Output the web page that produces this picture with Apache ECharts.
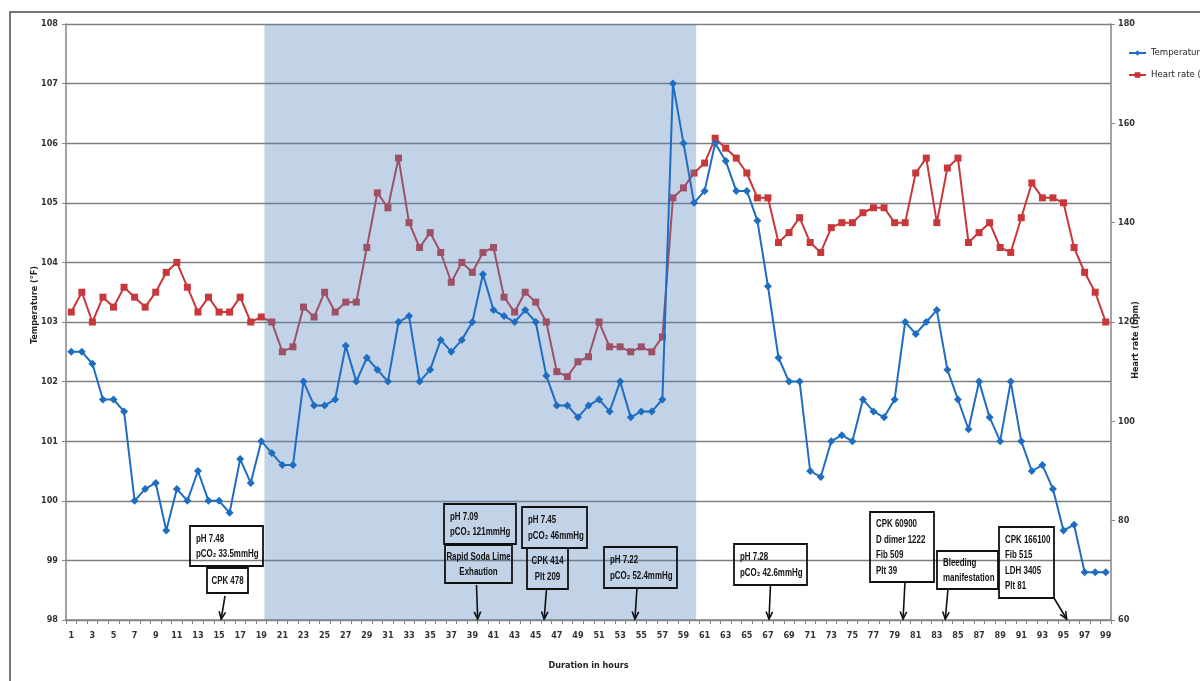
<!DOCTYPE html>
<html>
<head>
<meta charset="utf-8">
<script src="https://cdn.jsdelivr.net/npm/echarts@6/dist/echarts.min.js"></script>
<style>
  html, body { margin: 0; padding: 0; background: #ffffff; }
  #chart { width: 1200px; height: 681px; }
</style>
</head>
<body>
<div id="chart"></div>
<script>
// Hours of monitoring (x categories)
const hours = Array.from({ length: 99 }, (_, i) => String(i + 1));

// Body temperature, °F, hourly
const temperature = [
  102.5, 102.5, 102.3, 101.7, 101.7, 101.5, 100.0, 100.2, 100.3, 99.5,
  100.2, 100.0, 100.5, 100.0, 100.0, 99.8, 100.7, 100.3, 101.0, 100.8,
  100.6, 100.6, 102.0, 101.6, 101.6, 101.7, 102.6, 102.0, 102.4, 102.2,
  102.0, 103.0, 103.1, 102.0, 102.2, 102.7, 102.5, 102.7, 103.0, 103.8,
  103.2, 103.1, 103.0, 103.2, 103.0, 102.1, 101.6, 101.6, 101.4, 101.6,
  101.7, 101.5, 102.0, 101.4, 101.5, 101.5, 101.7, 107.0, 106.0, 105.0,
  105.2, 106.0, 105.7, 105.2, 105.2, 104.7, 103.6, 102.4, 102.0, 102.0,
  100.5, 100.4, 101.0, 101.1, 101.0, 101.7, 101.5, 101.4, 101.7, 103.0,
  102.8, 103.0, 103.2, 102.2, 101.7, 101.2, 102.0, 101.4, 101.0, 102.0,
  101.0, 100.5, 100.6, 100.2, 99.5, 99.6, 98.8, 98.8, 98.8
];

// Heart rate, bpm, hourly
const heartRate = [
  122, 126, 120, 125, 123, 127, 125, 123, 126, 130,
  132, 127, 122, 125, 122, 122, 125, 120, 121, 120,
  114, 115, 123, 121, 126, 122, 124, 124, 135, 146,
  143, 153, 140, 135, 138, 134, 128, 132, 130, 134,
  135, 125, 122, 126, 124, 120, 110, 109, 112, 113,
  120, 115, 115, 114, 115, 114, 117, 145, 147, 150,
  152, 157, 155, 153, 150, 145, 145, 136, 138, 141,
  136, 134, 139, 140, 140, 142, 143, 143, 140, 140,
  150, 153, 140, 151, 153, 136, 138, 140, 135, 134,
  141, 148, 145, 145, 144, 135, 130, 126, 120
];

// Axis ranges
const tempAxis = { min: 98, max: 108, interval: 1 };
const hrAxis = { min: 60, max: 180, interval: 20 };

// Period under anaesthesia (hours)
const shadedPeriod = [19.3, 60.2];

// Clinical notes and the hours they refer to
const noteTexts = [
  'pH 7.48\npCO₂ 33.5mmHg',
  'CPK 478',
  'pH 7.09\npCO₂ 121mmHg',
  'Rapid Soda Lime\nExhaution',
  'pH 7.45\npCO₂ 46mmHg',
  'CPK 414\nPlt 209',
  'pH 7.22\npCO₂ 52.4mmHg',
  'pH 7.28\npCO₂ 42.6mmHg',
  'CPK 60900\nD dimer 1222\nFib 509\nPlt 39',
  'Bleeding\nmanifestation',
  'CPK 166100\nFib 515\nLDH 3405\nPlt 81'
];
const arrowHours = [15.2, 39.5, 45.8, 54.4, 67.1, 79.8, 83.8, 95.3];

// Note box layout (pixels): x, y, w, h, text alignment
const noteBoxes = [
  [190, 526, 73, 40, 'left'],
  [207, 568, 41, 25, 'center'],
  [444, 504, 72, 40, 'left'],
  [445, 545, 67, 38, 'center'],
  [522, 507, 65, 41, 'left'],
  [527, 548, 41, 41, 'center'],
  [604, 547, 73, 41, 'left'],
  [734, 544, 73, 41, 'left'],
  [870, 512, 64, 70, 'left'],
  [937, 551, 61, 38, 'left'],
  [999, 527, 55, 71, 'left']
];
// Arrow start points (pixels), one per entry of arrowHours
const arrowStarts = [
  [225, 596], [476.5, 585], [546.5, 589], [637, 588],
  [770.5, 585], [905, 582], [948, 589], [1054, 598]
];

const labelFont = '"Liberation Sans Narrow", "DejaVu Sans Condensed", "Liberation Sans", sans-serif';
const axisColor = '#868686';

const chart = echarts.init(document.getElementById('chart'), null, { renderer: 'canvas' });

const option = {
  animation: false,
  backgroundColor: '#ffffff',
  grid: { left: 66, right: 89, top: 24, bottom: 61, containLabel: false },
  legend: {
    orient: 'vertical',
    left: 1123,
    top: 43,
    itemWidth: 17,
    itemHeight: 7,
    itemGap: 12,
    textStyle: { fontSize: 9.5, fontFamily: labelFont, color: '#222' },
    data: ['Temperature (°F)', 'Heart rate (bpm)']
  },
  xAxis: [
    {
      type: 'category',
      data: hours,
      boundaryGap: true,
      axisLine: { lineStyle: { color: axisColor, width: 1.5 } },
      axisTick: { show: true, alignWithLabel: false, interval: 0, length: 4, lineStyle: { color: axisColor } },
      axisLabel: { interval: 1, fontSize: 9, fontWeight: 'bold', fontFamily: labelFont, color: '#333', margin: 11 },
      splitLine: { show: false },
      name: 'Duration in hours',
      nameLocation: 'middle',
      nameGap: 41,
      nameTextStyle: { fontSize: 9, fontWeight: 'bold', fontFamily: labelFont, color: '#222' }
    },
    {
      type: 'value',
      min: 0.5,
      max: 99.5,
      show: false
    }
  ],
  yAxis: [
    {
      type: 'value',
      min: tempAxis.min,
      max: tempAxis.max,
      interval: tempAxis.interval,
      axisLine: { show: true, lineStyle: { color: axisColor, width: 1.5 } },
      axisTick: { show: true, length: 4, lineStyle: { color: axisColor } },
      axisLabel: { fontSize: 9, fontWeight: 'bold', fontFamily: labelFont, color: '#333', margin: 8 },
      splitLine: { show: true, lineStyle: { color: '#7f7f7f', width: 1.4 } }
    },
    {
      type: 'value',
      position: 'right',
      min: hrAxis.min,
      max: hrAxis.max,
      interval: hrAxis.interval,
      axisLine: { show: true, lineStyle: { color: axisColor, width: 1.5 } },
      axisTick: { show: true, length: 4, lineStyle: { color: axisColor } },
      axisLabel: { fontSize: 9, fontWeight: 'bold', fontFamily: labelFont, color: '#333', margin: 7 },
      splitLine: { show: false }
    }
  ],
  series: [
    {
      name: 'Heart rate (bpm)',
      type: 'line',
      xAxisIndex: 0,
      yAxisIndex: 1,
      data: heartRate,
      z: 1,
      symbol: 'rect',
      symbolSize: 7,
      showAllSymbol: true,
      itemStyle: { color: '#c8373a' },
      lineStyle: { color: '#c8373a', width: 2 }
    },
    {
      name: 'Temperature (°F)',
      type: 'line',
      xAxisIndex: 0,
      yAxisIndex: 0,
      data: temperature,
      z: 3,
      symbol: 'diamond',
      symbolSize: 8,
      showAllSymbol: true,
      itemStyle: { color: '#1e6dc0' },
      lineStyle: { color: '#1e6dc0', width: 2 }
    }
  ]
};

chart.setOption(option);

// Shaded period, frame, axis titles, note boxes and arrows
const elements = [];
const gridTop = chart.convertToPixel({ yAxisIndex: 0 }, tempAxis.max);
const axisBottom = chart.convertToPixel({ yAxisIndex: 0 }, tempAxis.min);
const shadeX0 = chart.convertToPixel({ xAxisIndex: 1 }, shadedPeriod[0]);
const shadeX1 = chart.convertToPixel({ xAxisIndex: 1 }, shadedPeriod[1]);
elements.push({
  type: 'rect', z: 2, silent: true,
  shape: { x: shadeX0, y: gridTop, width: shadeX1 - shadeX0, height: axisBottom - gridTop },
  style: { fill: 'rgba(79,129,189,0.35)' }
});
elements.push({
  type: 'rect', z: 200, silent: true,
  shape: { x: 10, y: 12, width: 1400, height: 900 },
  style: { fill: null, stroke: '#4a4a4a', lineWidth: 1.5 }
});
elements.push({
  type: 'text', z: 200, x: 35, y: 305, rotation: Math.PI / 2, silent: true,
  style: { text: 'Temperature (°F)', x: 0, y: 0, fill: '#222', font: 'bold 9px ' + labelFont, align: 'center', verticalAlign: 'middle' }
});
elements.push({
  type: 'text', z: 200, x: 1136, y: 340, rotation: Math.PI / 2, silent: true,
  style: { text: 'Heart rate (bpm)', x: 0, y: 0, fill: '#222', font: 'bold 9px ' + labelFont, align: 'center', verticalAlign: 'middle' }
});

noteBoxes.forEach((b, i) => {
  const [x, y, w, h, align] = b;
  elements.push({
    type: 'rect', z: 200, silent: true,
    shape: { x: x, y: y, width: w, height: h },
    style: { fill: null, stroke: '#111', lineWidth: 1.8 }
  });
  const tx = align === 'center' ? x + w / 2 : x + 6;
  elements.push({
    type: 'text', z: 201, silent: true, x: tx, y: y + h / 2 + 0.5, scaleX: 0.72,
    style: {
      text: noteTexts[i], x: 0, y: 0, fill: '#111',
      font: 'bold 11px "Liberation Sans", Arial, sans-serif',
      align: align, verticalAlign: 'middle', lineHeight: 15.5
    }
  });
});

arrowHours.forEach((hour, i) => {
  const [sx, sy] = arrowStarts[i];
  const ex = chart.convertToPixel({ xAxisIndex: 1 }, hour);
  const ey = axisBottom - 1;
  const ang = Math.atan2(ey - sy, ex - sx);
  const head = 8, spread = 0.42;
  elements.push({
    type: 'line', z: 200, silent: true,
    shape: { x1: sx, y1: sy, x2: ex, y2: ey },
    style: { stroke: '#111', lineWidth: 1.6 }
  });
  elements.push({
    type: 'polyline', z: 200, silent: true,
    shape: {
      points: [
        [ex - head * Math.cos(ang - spread), ey - head * Math.sin(ang - spread)],
        [ex, ey],
        [ex - head * Math.cos(ang + spread), ey - head * Math.sin(ang + spread)]
      ]
    },
    style: { stroke: '#111', lineWidth: 1.6, fill: null }
  });
});

chart.setOption({ graphic: { elements: elements } });
</script>
</body>
</html>
